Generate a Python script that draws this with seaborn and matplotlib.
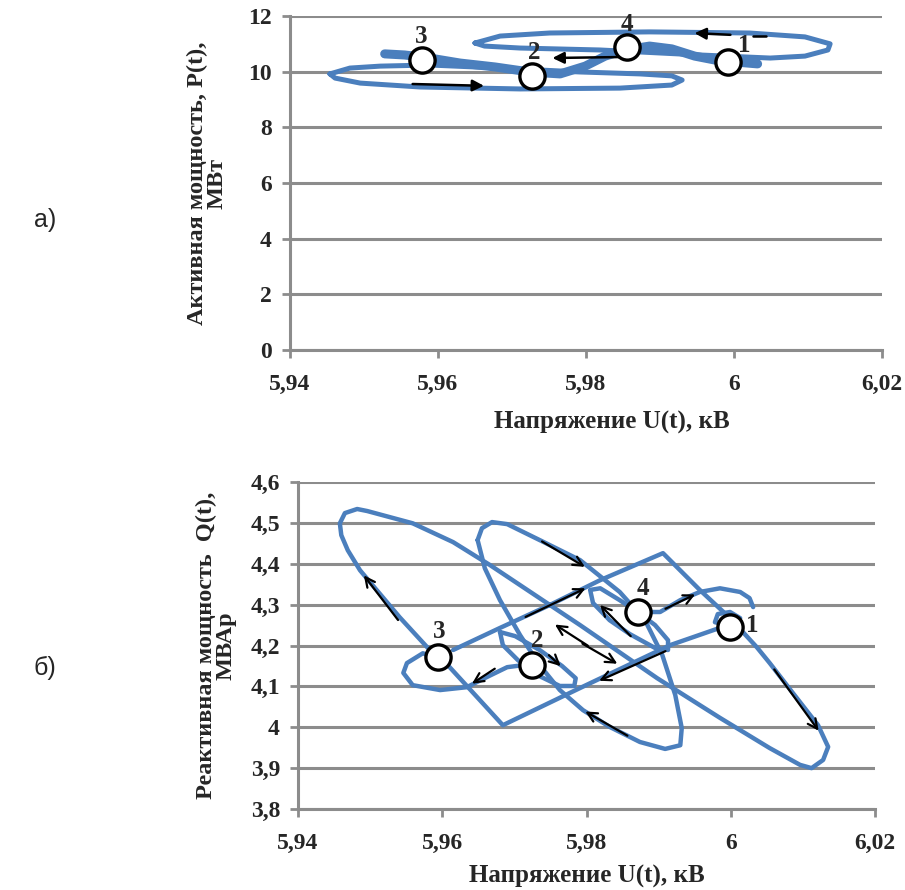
import numpy as np
import pandas as pd
import matplotlib
matplotlib.use("Agg")
import matplotlib.pyplot as plt
import seaborn as sns

sns.set_style("white")
plt.rcParams['font.family'] = ['Liberation Serif', 'DejaVu Serif']

BLUE = "#4b7fbd"
GRID = "#8c8c8c"

# ---------------- a) P(U) ----------------
u_ticks = [5.94, 5.96, 5.98, 6.0, 6.02]
u_labels = ["5,94", "5,96", "5,98", "6", "6,02"]
p_ticks = [0, 2, 4, 6, 8, 10, 12]
p_labels = ["0", "2", "4", "6", "8", "10", "12"]

# marked points 1..4
p_pts_u = [5.9992, 5.9727, 5.9578, 5.9855]
p_pts_p = [10.35, 9.85, 10.42, 10.89]

# lower loop
lo_u = [5.9454, 5.9481, 5.9522, 5.9589, 5.9684, 5.9792, 5.9873, 5.9916, 5.9930,
        5.9916, 5.9846, 5.9711, 5.9576, 5.9495, 5.9461, 5.9454]
lo_p = [9.92, 10.13, 10.20, 10.24, 10.13, 9.99, 9.92, 9.85, 9.70,
        9.52, 9.41, 9.38, 9.45, 9.59, 9.77, 9.92]
# upper loop
hi_u = [5.9650, 5.9684, 5.9751, 5.9886, 6.0021, 6.0096, 6.0130, 6.0127, 6.0096,
        6.0049, 5.9954, 5.9819, 5.9711, 5.9663, 5.9650]
hi_p = [11.03, 11.28, 11.39, 11.43, 11.39, 11.25, 11.00, 10.78, 10.56,
        10.49, 10.60, 10.78, 10.85, 10.92, 11.03]
# thick band through the points
band_u = [5.9528, 5.9555, 5.9589, 5.9630, 5.9677, 5.9724, 5.9765, 5.9799, 5.9826,
          5.9853, 5.9886, 5.9916, 5.9947, 5.9974, 6.0001, 6.0032]
band_p = [10.64, 10.60, 10.49, 10.31, 10.17, 9.99, 9.92, 10.20, 10.56,
          10.78, 10.92, 10.82, 10.56, 10.42, 10.35, 10.28]

# arrows (tail -> head)
p_arrow_tail_u = [5.9562, 5.9855, 5.9999]
p_arrow_tail_p = [9.56, 10.53, 11.32]
p_arrow_head_u = [5.9666, 5.9751, 5.9943]
p_arrow_head_p = [9.49, 10.49, 11.39]
p_stem_u = [5.9855, 5.9855]
p_stem_p = [10.75, 10.53]
p_dash_u = [6.0026, 6.0044]
p_dash_p = [11.28, 11.28]

# ---------------- б) Q(U) ----------------
q_ticks = [3.8, 3.9, 4.0, 4.1, 4.2, 4.3, 4.4, 4.5, 4.6]
q_labels = ["3,8", "3,9", "4", "4,1", "4,2", "4,3", "4,4", "4,5", "4,6"]

q_pts_u = [5.9999, 5.9724, 5.9594, 5.9871]
q_pts_q = [4.245, 4.152, 4.172, 4.282]

# big loop + upper side of the rectangle
qa_u = [5.9594, 5.9579, 5.9541, 5.9507, 5.9486, 5.9469, 5.9460, 5.9458, 5.9465, 5.9482,
        5.9496, 5.9559, 5.9615, 5.9666, 5.9791, 5.9898, 5.9985, 6.0054, 6.0096, 6.0112,
        6.0128, 6.0135, 6.0121, 6.0086, 6.0054, 6.0036, 5.9999, 5.9957, 5.9906, 5.9819,
        5.9749, 5.9680, 5.9615]
qa_q = [4.169, 4.196, 4.269, 4.340, 4.384, 4.433, 4.470, 4.499, 4.524, 4.534,
        4.529, 4.499, 4.453, 4.397, 4.250, 4.120, 4.023, 3.949, 3.908, 3.900,
        3.920, 3.952, 4.005, 4.084, 4.157, 4.196, 4.267, 4.336, 4.426, 4.360,
        4.299, 4.243, 4.189]
# second loop
qb_u = [5.9649, 5.9655, 5.9669, 5.9690, 5.9735, 5.9791, 5.9846, 5.9881, 5.9905, 5.9923,
        5.9932, 5.9930, 5.9909, 5.9874, 5.9832, 5.9795, 5.9763, 5.9735, 5.9708, 5.9680,
        5.9659, 5.9649]
qb_q = [4.458, 4.487, 4.502, 4.497, 4.458, 4.409, 4.331, 4.262, 4.177, 4.079,
        3.998, 3.956, 3.947, 3.964, 4.001, 4.042, 4.091, 4.152, 4.225, 4.311,
        4.389, 4.458]
# lower side of the rectangle 3 -> 1
qr_u = [5.9604, 5.9684, 5.9791, 5.9916, 5.9996]
qr_q = [4.159, 4.005, 4.096, 4.201, 4.250]
# small loop at 2
qc_u = [5.9680, 5.9701, 5.9735, 5.9766, 5.9785, 5.9783, 5.9763, 5.9735, 5.9705, 5.9684, 5.9680]
qc_q = [4.233, 4.223, 4.189, 4.150, 4.120, 4.101, 4.101, 4.125, 4.164, 4.201, 4.233]
# loop 2 -> 3
qd_u = [5.9712, 5.9690, 5.9662, 5.9634, 5.9597, 5.9559, 5.9546, 5.9551, 5.9573, 5.9594]
qd_q = [4.152, 4.147, 4.123, 4.098, 4.091, 4.103, 4.133, 4.157, 4.181, 4.169]
# hook from 4
qe_u = [5.9871, 5.9902, 5.9930, 5.9957, 5.9985, 6.0013, 6.0026, 6.0031]
qe_q = [4.282, 4.282, 4.311, 4.331, 4.340, 4.331, 4.316, 4.294]
# small loop at 4
qf_u = [5.9871, 5.9846, 5.9819, 5.9805, 5.9809, 5.9832, 5.9860, 5.9895, 5.9913, 5.9913, 5.9895, 5.9871]
qf_q = [4.282, 4.311, 4.340, 4.336, 4.304, 4.262, 4.228, 4.194, 4.189, 4.213, 4.250, 4.282]
# hook at 1
qh_u = [5.9996, 5.9978, 5.9982, 5.9999, 6.0013]
qh_q = [4.250, 4.257, 4.277, 4.282, 4.267]

q_arrow_tail_u = [5.9541, 5.9735, 5.9712, 5.9805, 5.9864, 6.0058, 5.9913, 5.9860, 5.9791, 5.9745, 5.9676, 5.9906]
q_arrow_tail_q = [4.257, 4.458, 4.267, 4.196, 4.218, 4.147, 4.189, 3.976, 4.208, 4.181, 4.147, 4.287]
q_arrow_head_u = [5.9489, 5.9801, 5.9802, 5.9753, 5.9816, 6.0124, 5.9814, 5.9795, 5.9846, 5.9767, 5.9638, 5.9954]
q_arrow_head_q = [4.377, 4.389, 4.343, 4.255, 4.304, 3.986, 4.111, 4.042, 4.152, 4.145, 4.103, 4.328]

point_names = ["1", "2", "3", "4"]
p_lbl_dx = [12, 2, 0, 0]
p_lbl_dy = [12, 17, 17, 16]
q_lbl_dx = [16, 4, 1, 4]
q_lbl_dy = [1, 18, 18, 17]


def curve(ax, u, v, lw=2.6):
    sns.lineplot(x=u, y=v, sort=False, estimator=None, ax=ax, color=BLUE,
                 lw=lw, legend=False, solid_capstyle='round')


def style(ax, yt, yl, ymin, ymax):
    ax.set_xlim(5.94, 6.02)
    ax.set_ylim(ymin, ymax)
    ax.set_xticks(u_ticks)
    ax.set_xticklabels(u_labels)
    ax.set_yticks(yt)
    ax.set_yticklabels(yl)
    for s in ["top", "right"]:
        ax.spines[s].set_visible(False)
    for s in ["left", "bottom"]:
        ax.spines[s].set_color(GRID)
        ax.spines[s].set_linewidth(2.2)
    ax.grid(axis="y", color=GRID, lw=2.2)
    ax.grid(axis="x", visible=False)
    ax.set_axisbelow(True)
    ax.tick_params(axis="both", direction="out", length=6, width=2, color=GRID,
                   labelsize=17, left=True, bottom=True)
    ax.tick_params(axis="x", pad=11)
    ax.tick_params(axis="y", pad=7)
    for t in ax.get_xticklabels() + ax.get_yticklabels():
        t.set_fontweight("bold")


fig = plt.figure(figsize=(9.05, 8.9), dpi=100)
ax1 = fig.add_axes([0.3204, 0.6067, 0.6541, 0.3753])
ax2 = fig.add_axes([0.3293, 0.0910, 0.6376, 0.3674])

# ---- top chart ----
curve(ax1, lo_u, lo_p, 3.6)
curve(ax1, hi_u, hi_p, 3.6)
curve(ax1, band_u, band_p, 6.5)
ax1.plot(p_stem_u, p_stem_p, color="black", lw=1.8)
ax1.plot(p_dash_u, p_dash_p, color="black", lw=1.8)
for tu, tp, hu, hp in zip(p_arrow_tail_u, p_arrow_tail_p, p_arrow_head_u, p_arrow_head_p):
    ax1.annotate("", xy=(hu, hp), xytext=(tu, tp),
                 arrowprops=dict(arrowstyle="-|>", color="black", lw=1.8, mutation_scale=17))
sns.scatterplot(x=p_pts_u, y=p_pts_p, ax=ax1, s=330, color="white",
                edgecolor="black", linewidth=2.4, zorder=5, legend=False)
for name, u, p, dx, dy in zip(point_names, p_pts_u, p_pts_p, p_lbl_dx, p_lbl_dy):
    ax1.annotate(name, xy=(u, p), xytext=(dx, dy), textcoords="offset points",
                 ha="center", va="center", fontsize=18, fontweight="bold", zorder=6)
style(ax1, p_ticks, p_labels, 0, 12)
ax1.set_xlabel("Напряжение U(t), кВ", fontsize=18, fontweight="bold")
ax1.set_ylabel("Активная мощность, P(t),\nМВт", fontsize=17.5, fontweight="bold",
               linespacing=0.95)
ax1.xaxis.set_label_coords(0.544, -0.183)
ax1.yaxis.set_label_coords(-0.105, 0.5)

# ---- bottom chart ----
for u, v in [(qa_u, qa_q), (qb_u, qb_q), (qr_u, qr_q), (qc_u, qc_q),
             (qd_u, qd_q), (qe_u, qe_q), (qf_u, qf_q), (qh_u, qh_q)]:
    curve(ax2, u, v, 3.2)
for tu, tq, hu, hq in zip(q_arrow_tail_u, q_arrow_tail_q, q_arrow_head_u, q_arrow_head_q):
    ax2.annotate("", xy=(hu, hq), xytext=(tu, tq),
                 arrowprops=dict(arrowstyle="->", color="black", lw=1.6, mutation_scale=17))
sns.scatterplot(x=q_pts_u, y=q_pts_q, ax=ax2, s=330, color="white",
                edgecolor="black", linewidth=2.4, zorder=5, legend=False)
for name, u, q, dx, dy in zip(point_names, q_pts_u, q_pts_q, q_lbl_dx, q_lbl_dy):
    ax2.annotate(name, xy=(u, q), xytext=(dx, dy), textcoords="offset points",
                 ha="center", va="center", fontsize=18, fontweight="bold", zorder=6)
style(ax2, q_ticks, q_labels, 3.8, 4.6)
ax2.set_xlabel("Напряжение U(t), кВ", fontsize=18, fontweight="bold")
ax2.set_ylabel("Реактивная мощность  Q(t),\nМВАр", fontsize=17.5, fontweight="bold",
               linespacing=0.95)
ax2.xaxis.set_label_coords(0.5, -0.172)
ax2.yaxis.set_label_coords(-0.106, 0.5)

fig.text(0.05, 1 - 220 / 890, "а)", fontsize=18, family=["Liberation Sans", "DejaVu Sans"],
         va="center", ha="center")
fig.text(0.05, 1 - 668 / 890, "б)", fontsize=18, family=["Liberation Sans", "DejaVu Sans"],
         va="center", ha="center")

fig.savefig("out.png", dpi=100)
